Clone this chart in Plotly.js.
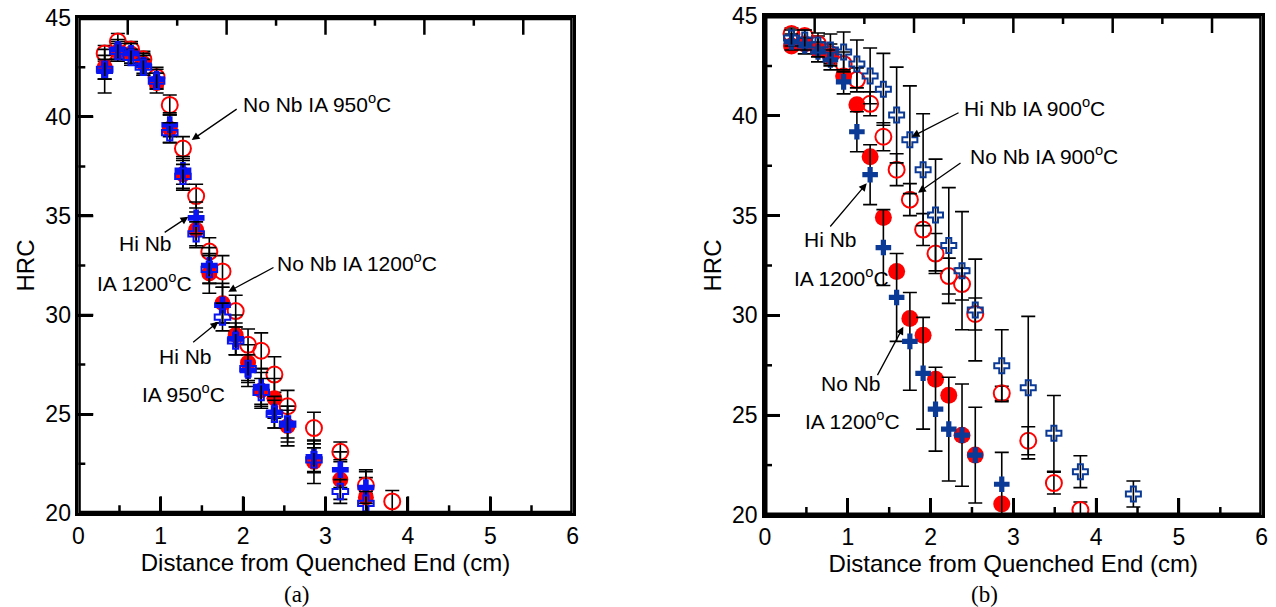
<!DOCTYPE html>
<html>
<head>
<meta charset="utf-8">
<script src="https://cdn.plot.ly/plotly-3.0.1.min.js"></script>
<style>html,body{margin:0;padding:0;background:#fff;} #chart{width:1276px;height:607px;}</style>
</head>
<body>
<div id="chart"></div>
<script>
// ---------- Panel (a) data ----------
const aX_noNb950  = [0.32,0.48,0.64,0.79,0.95,1.11,1.27,1.43,1.59,1.75,1.91,2.06,2.22,2.38,2.54,2.86,3.18,3.49,3.81];
const aY_noNb950  = [43.2,43.8,43.4,42.9,42.0,40.6,38.4,36.0,33.2,32.2,30.2,28.5,28.2,27.0,25.4,24.3,23.1,21.4,20.6];
const aE_noNb950  = [0.4,0.4,0.4,0.4,0.5,0.5,0.6,0.6,0.7,0.8,0.8,0.8,0.9,0.9,0.8,0.8,0.5,0.4,0.55];

const aX_noNb1200 = [0.32,0.48,0.64,0.79,0.95,1.11,1.27,1.43,1.59,1.75,1.91,2.06,2.22,2.38,2.54,2.86,3.18,3.49];
const aY_noNb1200 = [42.5,43.3,43.2,42.7,41.7,39.4,37.1,34.3,32.1,30.6,29.0,27.6,26.2,25.8,24.4,22.6,21.7,20.8];
const aE_noNb1200 = [0.6,0.5,0.5,0.5,0.5,0.7,0.8,0.9,1.0,1.0,1.0,0.9,0.9,1.0,1.0,1.1,1.0,1.4];

const aX_hiNb1200 = [0.32,0.48,0.64,0.79,0.95,1.11,1.27,1.43,1.59,1.75,1.91,2.06,2.22,2.38,2.54,2.86,3.18,3.49];
const aY_hiNb1200 = [42.3,43.4,43.2,42.6,41.9,39.6,37.3,34.9,32.5,30.5,28.8,27.2,26.4,25.1,24.5,22.85,22.2,21.3];
const aE_hiNb1200 = [1.1,0.5,0.5,0.5,0.5,0.6,0.7,0.8,0.9,0.9,0.8,0.8,0.9,0.8,0.9,0.8,0.9,0.8];

const aX_hiNb950  = [0.32,0.48,0.64,0.79,0.95,1.11,1.27,1.43,1.59,1.75,1.91,2.06,2.22,2.38,2.54,2.86,3.18,3.49];
const aY_hiNb950  = [42.4,43.3,43.0,42.5,41.8,39.2,37.0,34.1,32.3,29.9,28.7,27.3,26.1,25.0,24.5,22.7,21.1,20.5];
const aE_hiNb950  = [0.5,0.4,0.4,0.4,0.4,0.5,0.6,0.6,0.7,0.7,0.7,0.7,0.7,0.7,0.7,0.6,0.6,0.6];

// ---------- Panel (b) data ----------
const bX_noNb900  = [0.32,0.48,0.64,0.79,0.95,1.11,1.27,1.43,1.59,1.75,1.91,2.06,2.22,2.38,2.54,2.86,3.18,3.49,3.81];
const bY_noNb900  = [44.1,44.0,43.6,43.1,42.6,41.8,40.6,38.95,37.3,35.8,34.3,33.1,31.97,31.57,30.07,26.1,23.72,21.6,20.25];
const bE_noNb900  = [0.3,0.3,0.4,0.5,0.6,0.6,0.6,0.7,0.8,0.8,0.8,1.0,0.9,0.8,0.8,0.35,0.7,0.55,0.4];

const bX_hiNb900  = [0.32,0.48,0.64,0.79,0.95,1.11,1.27,1.43,1.59,1.75,1.91,2.06,2.22,2.38,2.54,2.86,3.18,3.49,3.81,4.45];
const bY_hiNb900  = [43.9,43.8,43.55,43.3,43.2,42.6,42.0,41.33,40.04,38.8,37.3,35.03,33.5,32.24,30.27,27.48,26.38,24.09,22.17,21.05];
const bE_hiNb900  = [0.4,0.5,0.6,0.8,1.0,1.2,1.4,1.8,2.4,2.7,2.8,2.8,2.9,2.96,2.55,1.8,3.57,1.9,0.8,0.65];

const bX_hiNb1200 = [0.32,0.48,0.64,0.79,0.95,1.11,1.27,1.43,1.59,1.75,1.91,2.06,2.22,2.38,2.54,2.86];
const bY_hiNb1200 = [43.7,43.5,43.2,42.8,41.7,39.2,37.05,33.4,30.9,28.7,27.1,25.3,24.3,24.0,23.0,21.54];
const bE_hiNb1200 = [0.4,0.4,0.5,0.5,0.6,1.0,1.5,1.9,2.2,2.45,2.8,2.1,2.6,2.56,2.4,1.6];

const bX_noNb1200 = [0.32,0.48,0.64,0.79,0.95,1.11,1.27,1.43,1.59,1.75,1.91,2.06,2.22,2.38,2.54,2.86];
const bY_noNb1200 = [43.5,43.6,43.3,43.0,42.0,40.55,37.95,34.9,32.2,29.85,29.0,26.8,26.0,24.0,23.0,20.55];

// ---------- Axis ticks / text ----------
const xTickVals = [0,1,2,3,4,5,6];
const xMinorVals = [0.5,1.5,2.5,3.5,4.5,5.5];
const yTickVals = [20,25,30,35,40,45];
const yMinorVals = [22.5,27.5,32.5,37.5,42.5];
const topTickSteps = [1,2,3,4,5,6,7,8,9];   // upper frame divided in tenths
const xTitle = 'Distance from Quenched End (cm)';
const yTitle = 'HRC';

const RED = '#ff0000';
const BLUE_A = '#0a14f0';
const NAVY_B = '#0b3a96';

const W = 1276, H = 607;
const domA = {x:[78.3/W, 572.7/W], y:[(H-513.3)/H, (H-17.7)/H]};
const domB = {x:[765/W, 1261.7/W], y:[(H-515)/H, (H-16)/H]};

function err(arr){
  return {type:'data', array:arr, visible:true, color:'#000', thickness:1.6, width:7};
}

// frame + tick marks for one panel, built from the tick arrays through the axis scale
function frameTrace(xa, ya, dom){
  const xmin = xTickVals[0], xmax = xTickVals[xTickVals.length-1];
  const ymin = yTickVals[0], ymax = yTickVals[yTickVals.length-1];
  const pxX = (xmax - xmin) / ((dom.x[1]-dom.x[0]) * W);   // data units per pixel
  const pxY = (ymax - ymin) / ((dom.y[1]-dom.y[0]) * H);
  const X = [], Y = [];
  function seg(x0,y0,x1,y1){ X.push(x0,x1,null); Y.push(y0,y1,null); }
  xTickVals.slice(1,-1).forEach(v => seg(v, ymin, v, ymin + 17*pxY));
  xMinorVals.forEach(v => seg(v, ymin, v, ymin + 8*pxY));
  yTickVals.slice(1,-1).forEach(v => seg(xmin, v, xmin + 15*pxX, v));
  yMinorVals.forEach(v => seg(xmin, v, xmin + 7*pxX, v));
  topTickSteps.forEach((k, i) => {
    const v = xmin + (xmax - xmin) * k / 10;
    seg(v, ymax, v, ymax - (i % 2 === 0 ? 17 : 8) * pxY);
  });
  const ticks = {x:X, y:Y, xaxis:xa, yaxis:ya, mode:'lines', type:'scatter', hoverinfo:'skip',
    line:{color:'#000', width:2.5}, connectgaps:false};
  const frame = {x:[xmin,xmax,xmax,xmin,xmin], y:[ymin,ymin,ymax,ymax,ymin], xaxis:xa, yaxis:ya,
    mode:'lines', type:'scatter', hoverinfo:'skip', line:{color:'#000', width:5}};
  return [ticks, frame];
}

const traces = [
  {x:aX_noNb950, y:aY_noNb950, xaxis:'x', yaxis:'y', mode:'markers', type:'scatter',
   marker:{symbol:'circle-open', size:16, color:RED, line:{width:2, color:RED}}, error_y:err(aE_noNb950)},
  {x:aX_noNb1200, y:aY_noNb1200, xaxis:'x', yaxis:'y', mode:'markers', type:'scatter',
   marker:{symbol:'circle', size:16, color:RED}, error_y:err(aE_noNb1200)},
  {x:aX_hiNb1200, y:aY_hiNb1200, xaxis:'x', yaxis:'y', mode:'markers', type:'scatter',
   marker:{symbol:'cross', size:14, color:BLUE_A}, error_y:err(aE_hiNb1200)},
  {x:aX_hiNb950, y:aY_hiNb950, xaxis:'x', yaxis:'y', mode:'markers', type:'scatter',
   marker:{symbol:'cross-open', size:13, color:BLUE_A, line:{width:2, color:BLUE_A}}, error_y:err(aE_hiNb950)},
  {x:bX_noNb900, y:bY_noNb900, xaxis:'x2', yaxis:'y2', mode:'markers', type:'scatter',
   marker:{symbol:'circle-open', size:16, color:RED, line:{width:2, color:RED}}, error_y:err(bE_noNb900)},
  {x:bX_noNb1200, y:bY_noNb1200, xaxis:'x2', yaxis:'y2', mode:'markers', type:'scatter',
   marker:{symbol:'circle', size:17, color:RED}},
  {x:bX_hiNb1200, y:bY_hiNb1200, xaxis:'x2', yaxis:'y2', mode:'markers', type:'scatter',
   marker:{symbol:'cross', size:13, color:NAVY_B}, error_y:err(bE_hiNb1200)},
  {x:bX_hiNb900, y:bY_hiNb900, xaxis:'x2', yaxis:'y2', mode:'markers', type:'scatter',
   marker:{symbol:'cross-open', size:12.5, color:NAVY_B, line:{width:2, color:NAVY_B}}, error_y:err(bE_hiNb900)}
].concat(frameTrace('x','y',domA), frameTrace('x2','y2',domB));

function sans(size){ return {family:'Liberation Sans, Arial, sans-serif', size:size, color:'#000'}; }

function xAxis(domain, anchor){
  return {domain:domain, anchor:anchor, range:[xTickVals[0], xTickVals[xTickVals.length-1]],
    tickmode:'array', tickvals:xTickVals.slice(),
    ticks:'inside', ticklen:17, tickwidth:2.5, tickcolor:'#000',
    showline:true, linewidth:2.5, linecolor:'#000', mirror:true, showgrid:false, zeroline:false,
    tickfont:sans(23), title:{text:xTitle, font:sans(24), standoff:2}};
}
function yAxis(domain, anchor){
  return {domain:domain, anchor:anchor, range:[yTickVals[0], yTickVals[yTickVals.length-1]],
    tickmode:'array', tickvals:yTickVals.slice(),
    ticks:'inside', ticklen:15, tickwidth:2.5, tickcolor:'#000',
    showline:true, linewidth:2.5, linecolor:'#000', mirror:true, showgrid:false, zeroline:false,
    tickfont:sans(23), title:{text:yTitle, font:sans(24), standoff:4}};
}

function arrow(xr, yr, hx, hy, tx, ty){
  return {xref:xr, yref:yr, axref:xr, ayref:yr, x:hx, y:hy, ax:tx, ay:ty, text:'', showarrow:true,
    arrowhead:2, arrowsize:1.2, arrowwidth:1.3, arrowcolor:'#000'};
}
function label(xr, yr, x, y, txt, anchor){
  return {xref:xr, yref:yr, x:x, y:y, text:txt, showarrow:false, xanchor:anchor, yanchor:'middle', font:sans(21)};
}

const annotations = [
  label('x','y',1.975,40.70,'No Nb IA 950<sup>o</sup>C','left'),
  arrow('x','y',1.376,38.83,1.94,40.44),
  label('x','y',0.81,33.62,'Hi Nb','center'),
  label('x','y',0.80,31.68,'IA 1200<sup>o</sup>C','center'),
  arrow('x','y',1.335,34.96,1.03,34.12),
  label('x','y',2.39,32.69,'No Nb IA 1200<sup>o</sup>C','left'),
  arrow('x','y',1.82,31.18,2.387,32.44),
  label('x','y',1.295,27.9,'Hi Nb','center'),
  label('x','y',1.277,26.06,'IA 950<sup>o</sup>C','center'),
  arrow('x','y',1.70,29.66,1.376,28.57),
  label('x2','y2',2.38,40.44,'Hi Nb IA 900<sup>o</sup>C','left'),
  arrow('x2','y2',1.772,38.95,2.356,40.19),
  label('x2','y2',2.452,38.04,'No Nb IA 900<sup>o</sup>C','left'),
  arrow('x2','y2',1.848,36.15,2.38,37.69),
  label('x2','y2',0.797,33.78,'Hi Nb','center'),
  label('x2','y2',0.918,31.92,'IA 1200<sup>o</sup>C','center'),
  arrow('x2','y2',1.229,36.62,0.773,34.38),
  label('x2','y2',1.039,26.61,'No Nb','center'),
  label('x2','y2',1.051,24.76,'IA 1200<sup>o</sup>C','center'),
  arrow('x2','y2',1.671,29.43,1.349,26.93),
  {xref:'paper', yref:'paper', x:297/W, y:1-594/H, text:'(a)', showarrow:false, xanchor:'center', yanchor:'middle',
   font:{family:'Liberation Serif, Times New Roman, serif', size:23, color:'#000'}},
  {xref:'paper', yref:'paper', x:984/W, y:1-594/H, text:'(b)', showarrow:false, xanchor:'center', yanchor:'middle',
   font:{family:'Liberation Serif, Times New Roman, serif', size:23, color:'#000'}}
];

const layout = {
  width:W, height:H,
  margin:{l:0, r:0, t:0, b:0},
  showlegend:false,
  xaxis: xAxis(domA.x, 'y'),
  yaxis: yAxis(domA.y, 'x'),
  xaxis2: xAxis(domB.x, 'y2'),
  yaxis2: yAxis(domB.y, 'x2'),
  annotations: annotations
};

Plotly.newPlot('chart', traces, layout, {displayModeBar:false});
</script>
</body>
</html>
